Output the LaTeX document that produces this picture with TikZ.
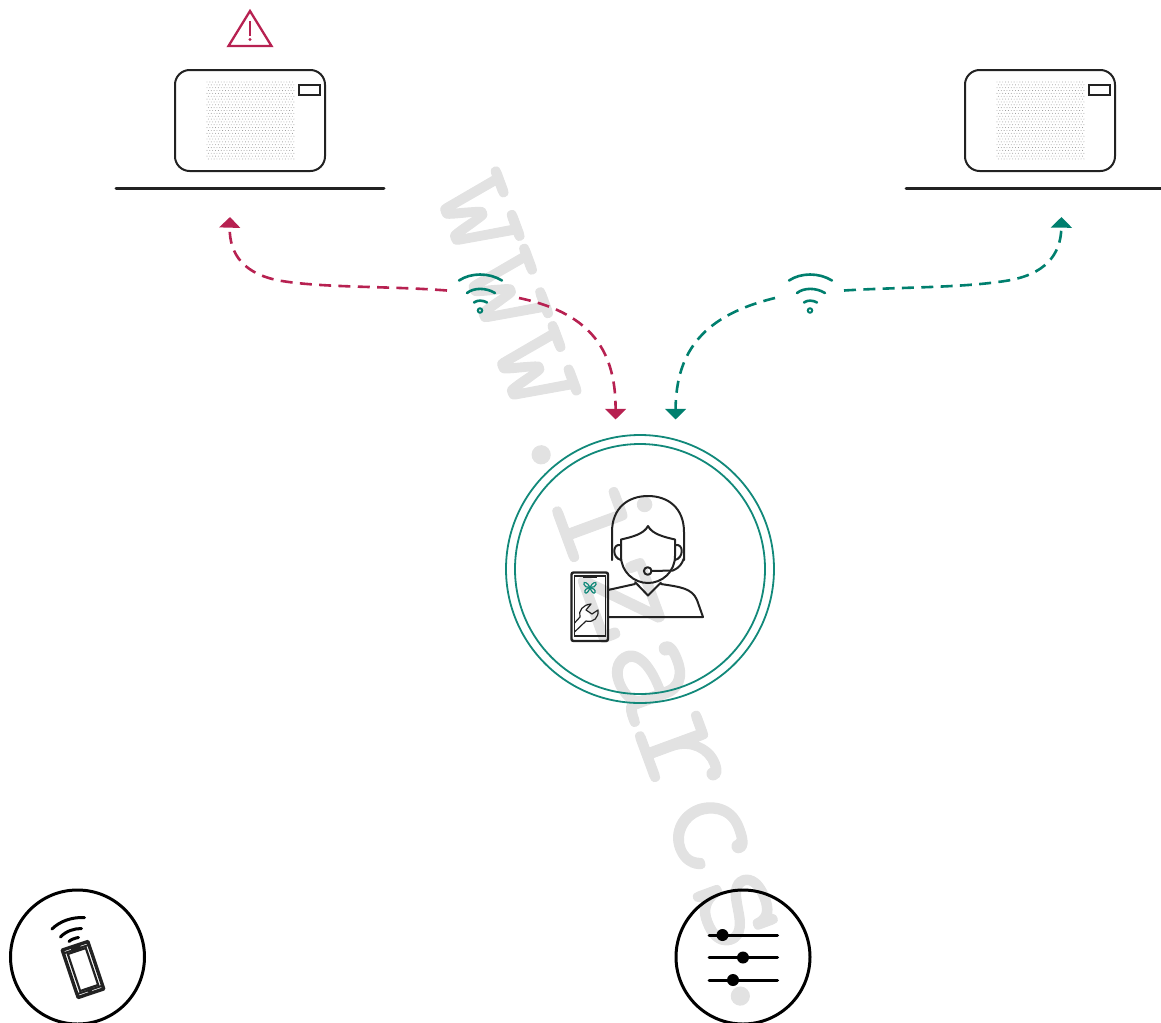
\documentclass[tikz,border=0pt]{standalone}
\usepackage{fontspec}
\newfontfamily\wmfont[FakeBold=0.7]{Latin Modern Mono}
\usetikzlibrary{arrows.meta}
\definecolor{alertred}{HTML}{B72151}
\definecolor{linkteal}{HTML}{007F6E}
\definecolor{ringteal}{HTML}{12897A}
\definecolor{inkline}{HTML}{222222}
\definecolor{wmgray}{HTML}{E2E2E2}
\definecolor{dotgray}{HTML}{8A8A8A}
\tikzset{
  x=0.75pt,y=-0.75pt,
  px/.style={line width=#1*0.75pt},
  ink/.style={draw=inkline,px=2,line cap=round,line join=round},
  link/.style={px=2.6,dash pattern=on 9pt off 5.5pt,
    -{Triangle[width=15.5pt,length=8pt]}},
  redlink/.style={link,draw=alertred,fill=none},
  teallink/.style={link,draw=linkteal,fill=none},
  wifiarc/.style={draw=linkteal,px=2.6,line cap=round},
  blackline/.style={draw=black,px=3,line cap=round},
  pics/wifi/.style={code={
    \draw[wifiarc] (-21,-30) .. controls (-9,-38) and (9,-38) .. (22,-30);
    \draw[wifiarc] (-13,-17.5) .. controls (-6,-23) and (6,-23) .. (15,-17.5);
    \draw[wifiarc] (-6,-8) .. controls (-3,-10.5) and (3,-10.5) .. (7,-8);
    \draw[draw=linkteal,px=2] (0,0) circle (2.2);
  }},
  pics/device/.style={code={
    \foreach \i in {0,...,30}{\foreach \j in {0,...,27}{
      \fill[dotgray] ({32+\i*2.85+mod(\j,2)*1.4},{12+\j*2.85}) circle (0.45);
    }}
    \draw[ink,rounded corners=11pt] (0,0) rectangle (150,101);
    \draw[draw=inkline,px=1.4] (124,15) rectangle (145,25);
    \draw[draw=inkline,px=3,line cap=round] (-59,118) -- (#1,118);
  }}
}
\begin{document}
\begin{tikzpicture}
\useasboundingbox (0,0) rectangle (1161,1022);
\clip (0,0) rectangle (1161,1022);
% watermark
\node[text=wmgray,font=\wmfont\fontsize{120pt}{120pt}\selectfont,anchor=base west,inner sep=0pt,rotate=-69.8] (wm) at (433,187) {www.izarcs.};

% devices
\pic at (175,70) {device=209};
\pic at (965,70) {device=199};
% warning
\draw[draw=alertred,px=2.3,line join=miter,fill=none] (250,11) -- (271.5,46) -- (228.5,46) -- cycle;
\draw[draw=alertred,px=2.6] (250,21) -- (250,36);
\fill[alertred] (250,39.5) circle (1.6);

% wifi
\pic at (480,310.5) {wifi};
\pic at (810,310.5) {wifi};
\coordinate (redL) at (447,290.5);
\coordinate (redR) at (519,298);
\coordinate (tealL) at (775,298);
\coordinate (tealR) at (844,290.5);
\coordinate (tipA) at (230,217);
\coordinate (tipB) at (615.5,419.5);
\coordinate (tipC) at (675.5,419.5);
\coordinate (tipD) at (1061.5,217);
\draw[redlink] (redL) .. controls (390,286) and (325,288) .. (282,281) .. controls (245,275) and (229,255) .. (tipA);
\draw[redlink] (redR) .. controls (585,312) and (616,345) .. (tipB);
\draw[teallink] (tealL) .. controls (705,315) and (676,350) .. (tipC);
\draw[teallink] (tealR) .. controls (900,287) and (960,288) .. (1005,281) .. controls (1045,275) and (1061,255) .. (tipD);

% big ring
\node[circle,draw=ringteal,px=1.8,minimum size=201pt,inner sep=0pt] (ringA) at (640,569) {};
\node[circle,draw=ringteal,px=1.8,minimum size=187.5pt,inner sep=0pt] (ringB) at (640,569) {};

% person
\begin{scope}[ink]
  \draw (612,560) -- (612,532) .. controls (612,508) and (628,496) .. (648,496) .. controls (668,496) and (684,508) .. (684,532) -- (684,560);
  \draw (621,539.5) .. controls (632,537) and (644,534) .. (648,526) .. controls (652,534) and (664,537) .. (675,539.5) -- (675,556) .. controls (675,572) and (662,583) .. (648,583) .. controls (634,583) and (621,572) .. (621,556) -- cycle;
  \draw (621,545) .. controls (612,543) and (612,558) .. (621,560);
  \draw (675,545) .. controls (684,543) and (684,558) .. (675,560);
  \draw (651.5,571) -- (673,570.5) .. controls (679,568) and (682,564) .. (684,558);
  \draw (647.7,571) circle (3.8);
  \draw (635,582) -- (648,595.5) -- (661,582.5);
  \draw (608,590) -- (635,584);
  \draw (661,584) .. controls (680,587) and (692,588) .. (697,600) -- (703,617) -- (608,617);
\end{scope}
% phone
\draw[draw=inkline,px=2.4,rounded corners=1.5pt] (571.5,572.5) rectangle (608,641);
\draw[draw=inkline,px=1.5] (574.5,576) rectangle (605.5,636);
\draw[draw=inkline,px=2.2] (583,576.5) -- (597,576.5);
% butterfly
\begin{scope}[shift={(590,587.5)},draw=ringteal,px=1.2]
  \draw (0,0) .. controls (-2,-5) and (-7,-7) .. (-6,-3) .. controls (-6,-1) and (-3,0) .. (0,0);
  \draw (0,0) .. controls (2,-5) and (7,-7) .. (6,-3) .. controls (6,-1) and (3,0) .. (0,0);
  \draw (0,0) .. controls (-3,1) and (-6,2) .. (-5,5) .. controls (-4,7) and (-1,4) .. (0,0);
  \draw (0,0) .. controls (3,1) and (6,2) .. (5,5) .. controls (4,7) and (1,4) .. (0,0);
\end{scope}
% wrench
\draw[draw=inkline,px=1.2,line join=round] (574.5,623) -- (580,617) .. controls (578,611) and (583,604.5) .. (591,604) -- (586,610) -- (592,614) -- (598,610) .. controls (599,617) and (594,623) .. (586,621) -- (574.5,632);

% bottom left
\node[circle,draw=black,px=3,minimum size=100.5pt,inner sep=0pt] (phoneBadge) at (77.5,957) {};
\draw[blackline] (52,929) .. controls (60,921) and (72,917) .. (84.5,917.5);
\draw[blackline] (60.5,937) .. controls (66,931) and (74,928.5) .. (81.5,928.5);
\draw[blackline] (69,941.5) .. controls (71,939.5) and (75,938) .. (78.5,937.5);
\begin{scope}[shift={(83,969.5)},rotate=18.5]
  \draw[draw=inkline,px=3.4,line join=round] (-13.5,-25) rectangle (13.5,25);
  \draw[draw=inkline,px=2.2] (-9.5,-19.5) rectangle (9.5,19.5);
  \draw[draw=inkline,px=2] (-13,-21.5) -- (13,-21.5);
  \draw[draw=inkline,px=2] (-13,21.5) -- (13,21.5);
  \fill[inkline] (-5,-24) rectangle (5,-20);
  \fill[inkline] (0,21.5) circle (2.6);
\end{scope}

% bottom right
\node[circle,draw=black,px=3,minimum size=100.5pt,inner sep=0pt] (sliderBadge) at (743,957) {};
\draw[blackline] (709,935) -- (777.5,935);
\draw[blackline] (709,957.5) -- (777.5,957.5);
\draw[blackline] (709,980) -- (777.5,980);
\fill[black] (722.5,935) circle (6);
\fill[black] (743,957.5) circle (6);
\fill[black] (733,980) circle (6);
\end{tikzpicture}
\end{document}
